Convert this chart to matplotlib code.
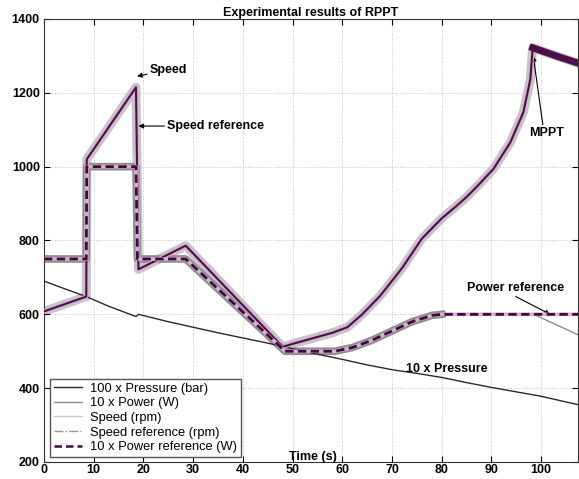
import matplotlib
matplotlib.use("Agg")
import matplotlib.pyplot as plt
from matplotlib.lines import Line2D

plt.rcParams['font.family'] = ['Liberation Sans', 'DejaVu Sans']

# ---------------- data ----------------
t_speed = [0, 8.5, 8.6, 18.5, 19.0, 28.5, 48, 50, 58, 61, 64, 67.6, 72, 76,
           80, 83, 85, 87, 90.4, 93.8, 96.4, 97.8, 98.3, 103, 107.5]
speed = [608, 648, 1020, 1215, 722, 786, 512, 520, 550, 565, 600, 650, 725, 805,
         860, 894, 918, 945, 994, 1066, 1147, 1236, 1322, 1300, 1280]

t_power_ref = [0, 8.5, 8.6, 18.5, 18.8, 28.5, 48.5, 58.5, 62, 66, 70, 74, 78, 80, 107.5]
power_ref = [750, 750, 1000, 1000, 750, 750, 500, 500, 510, 530, 555, 580, 597, 600, 600]

t_power = [0, 8.5, 8.6, 18.5, 18.8, 28.5, 48.5, 58.5, 62, 66, 70, 74, 78, 80, 98.8, 107.5]
power = [750, 750, 1000, 1000, 750, 750, 500, 500, 510, 530, 555, 580, 597, 600, 598, 544]

t_pressure = [0, 4, 8.5, 13, 18.5, 19, 19.3, 25, 30, 35, 40, 45, 50, 55, 60,
              65, 70, 75, 80, 85, 90, 95, 100, 107.5]
pressure = [690, 670, 648, 622, 594, 600, 599, 580, 565, 550, 536, 522, 507, 492, 478,
            463, 450, 440, 429, 415, 402, 390, 378, 355]

x_ticks = [0, 10, 20, 30, 40, 50, 60, 70, 80, 90, 100]
y_ticks = [200, 400, 600, 800, 1000, 1200, 1400]

legend_labels = ["100 x Pressure (bar)", "10 x Power (W)", "Speed (rpm)",
                 "Speed reference (rpm)", "10 x Power reference (W)"]

# ---------------- figure ----------------
fig = plt.figure(figsize=(5.79, 4.79), dpi=100)
ax = fig.add_axes([44 / 579, 17 / 479, 534 / 579, 443 / 479])

c_speed = "#c6c6c6"
c_power = "#8e8e8e"
c_press = "#2a2a2a"
c_sref = "#4d0f48"
c_sref_halo = "#d4b2d2"
c_pref = "#3f0a3b"

# noisy measured signals drawn as broad lines
n_noisy = 14  # power noisy up to the end of the ramp
ax.plot(t_speed, speed, color=c_speed, lw=6.5, solid_joinstyle='round', zorder=1)
ax.plot(t_power[:n_noisy], power[:n_noisy], color=c_power, lw=5.5,
        solid_joinstyle='round', zorder=2)
ax.plot(t_power[n_noisy - 1:], power[n_noisy - 1:], color=c_power, lw=1.0, zorder=2)

# pressure
ax.plot(t_pressure, pressure, color=c_press, lw=1.0, zorder=3)

# speed reference (pink halo + dark core)
ax.plot(t_speed, speed, color=c_sref_halo, lw=3.0, zorder=4)
ax.plot(t_speed, speed, color=c_sref, lw=1.5, zorder=5)
ax.plot(t_speed[-3:], speed[-3:], color=c_sref, lw=5, zorder=5)

# power reference
ax.plot(t_power_ref, power_ref, color=c_sref_halo, lw=2.6, zorder=5)
ax.plot(t_power_ref, power_ref, color=c_pref, lw=2.0, ls=(0, (3, 1.6)), zorder=6)

ax.set_xlim(0, 107.4)
ax.set_ylim(200, 1400)
ax.set_xticks(x_ticks)
ax.set_yticks(y_ticks)
ax.tick_params(direction='in', length=4, width=0.8, top=True, right=True,
               labelsize=9, pad=3)
ax.tick_params(axis='x', pad=1.5)
for lab in ax.get_xticklabels() + ax.get_yticklabels():
    lab.set_fontweight('bold')
ax.grid(True, ls=':', color='#c4c4c4', lw=0.7)
for s in ax.spines.values():
    s.set_color('#333333')
    s.set_linewidth(0.8)

ax.set_title("Experimental results of RPPT", fontsize=9, fontweight='bold', pad=2)

fs = 9
ax.text(54.1, 214, "Time (s)", fontsize=fs, fontweight='bold', ha='center', va='center')

arrow = dict(arrowstyle='-|>', color='black', lw=0.8, mutation_scale=7,
             shrinkA=0, shrinkB=0)
ax.annotate("Speed", xy=(18.7, 1245), xytext=(21.3, 1262), fontsize=fs,
            fontweight='bold', ha='left', va='center', arrowprops=arrow)
ax.annotate("Speed reference", xy=(19.0, 1110), xytext=(24.8, 1110), fontsize=fs,
            fontweight='bold', ha='left', va='center', arrowprops=arrow)
ax.annotate("MPPT", xy=(98.4, 1300), xytext=(97.6, 1090), fontsize=fs,
            fontweight='bold', ha='left', va='center',
            arrowprops=dict(arrow, relpos=(0.4, 1.0)))
ax.annotate("Power reference", xy=(101.8, 600), xytext=(85, 672), fontsize=fs,
            fontweight='bold', ha='left', va='center',
            arrowprops=dict(arrow, relpos=(0.45, 0.0)))
ax.text(81, 452, "10 x Pressure", fontsize=fs, fontweight='bold',
        ha='center', va='center')

handles = [
    Line2D([], [], color=c_press, lw=1.0),
    Line2D([], [], color=c_power, lw=1.0),
    Line2D([], [], color=c_speed, lw=1.0),
    Line2D([], [], color='#a08ca0', lw=1.0, ls='-.'),
    Line2D([], [], color=c_pref, lw=1.8, ls=(0, (3, 1.6))),
]
leg = ax.legend(handles, legend_labels, loc='lower left',
                bbox_to_anchor=(0.011, 0.011), fontsize=9.3, frameon=True,
                fancybox=False, edgecolor='#555555', framealpha=1,
                handlelength=2.2, handletextpad=0.6, labelspacing=0.2,
                borderpad=0.3, borderaxespad=0)
leg.get_frame().set_linewidth(1.0)

fig.savefig("out.png", dpi=100)
